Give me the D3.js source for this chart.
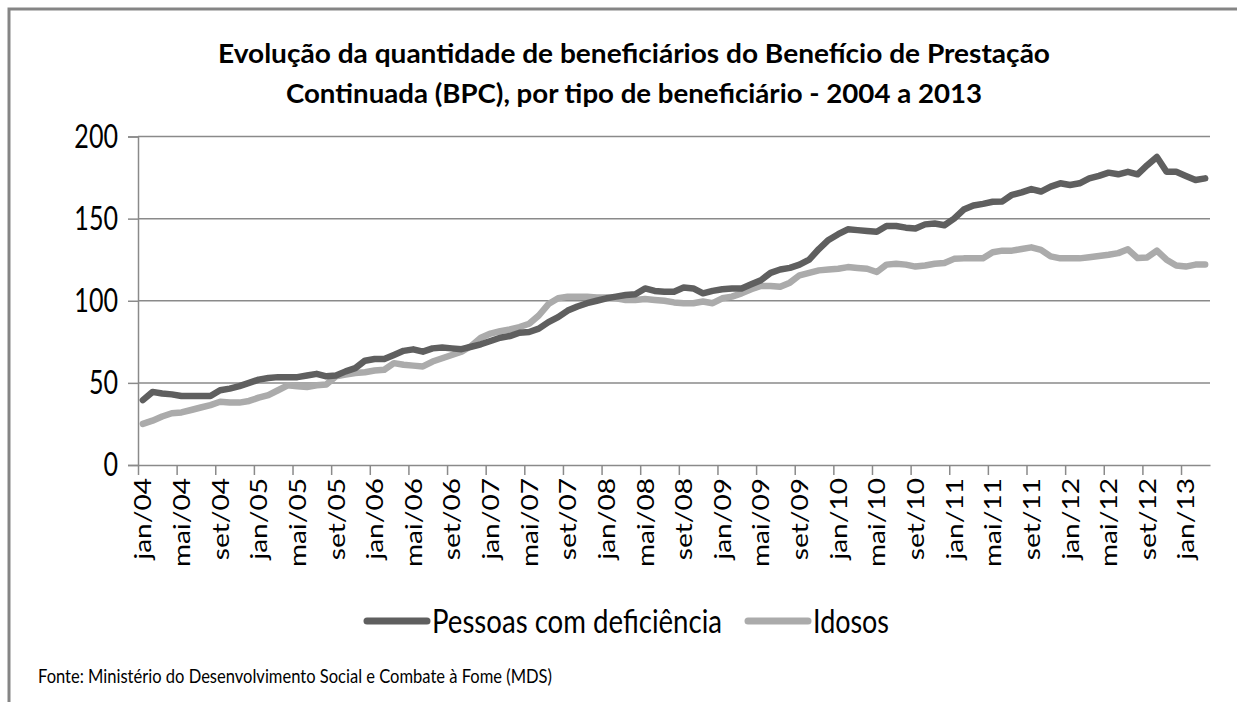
<!DOCTYPE html>
<html>
<head>
<meta charset="utf-8">
<script src="https://cdn.jsdelivr.net/npm/d3@7/dist/d3.min.js"></script>
<style>
  body { margin: 0; background: #fff; }
  text { font-family: Lato, "Open Sans", sans-serif; fill: #000; }
</style>
</head>
<body>
<div class="chartContainer"></div>
<script>
const meses = ['jan', 'fev', 'mar', 'abr', 'mai', 'jun', 'jul', 'ago', 'set', 'out', 'nov', 'dez']
const anos = ['04', '05', '06', '07', '08', '09', '10', '11', '12', '13']

const pessoasComDeficiencia = [
  39.5, 44.5, 43.5, 43, 42, 42, 42, 42, 45.5, 46.5, 48, 50,
  52, 53, 53.5, 53.5, 53.5, 54.5, 55.5, 54, 54.5, 57, 59, 63.5,
  64.5, 64.5, 67, 69.5, 70.4, 69, 71, 71.5, 71, 70.5, 72, 73.5,
  75.5, 77.5, 78.5, 80.5, 81, 83, 87, 90, 94, 96.5, 98.5, 100,
  101.5, 102.5, 103.5, 104, 107.5, 106, 105.5, 105.5, 108, 107.5, 104.5, 106,
  107, 107.5, 107.5, 110, 112.5, 117, 119, 120, 122, 125, 131.5, 137,
  140.5, 143.5, 143, 142.5, 142, 145.5, 145.5, 144.5, 144, 146.5, 147, 146,
  150, 155.5, 158, 159, 160.3, 160.5, 164.5, 166, 168, 166.5, 169.5, 171.5,
  170.5, 171.5, 174.5, 176, 178, 177, 178.5, 177, 182.5, 187.5, 178.5, 178.5,
  176, 173.5, 174.5
]

const idosos = [
  25, 27, 29.5, 31.5, 32, 33.5, 35, 36.5, 38.5, 38, 38, 39,
  41, 42.5, 45.5, 48.5, 48, 47.5, 48.5, 49, 54, 55, 56, 56.5,
  57.5, 58, 62, 61, 60.5, 60, 63, 65, 67, 69, 72.5, 77.5,
  80, 81.5, 82.5, 84, 86, 91, 98, 101.5, 102.5, 102.5, 102.5, 102,
  102, 101.5, 100.5, 100.5, 101, 100.5, 100, 99, 98.5, 98.5, 99.5, 98.5,
  101.5, 102.5, 104.5, 107, 109, 109, 108.5, 111, 115.5, 117, 118.5, 119,
  119.5, 120.5, 120, 119.5, 117.5, 122, 122.5, 122, 120.8, 121.5, 122.5, 123,
  125.5, 125.8, 125.8, 125.8, 129.5, 130.5, 130.5, 131.5, 132.5, 131, 127, 125.8,
  125.8, 125.8, 126.5, 127.2, 128, 129, 131.3, 126, 126.4, 130.5, 125, 121.5,
  120.8, 122, 122
]

const yTicks = [0, 50, 100, 150, 200]
const seriesNames = ['Pessoas com deficiência', 'Idosos']
const titleLines = [
  'Evolução da quantidade de beneficiários do Benefício de Prestação',
  'Continuada (BPC), por tipo de beneficiário - 2004 a 2013'
]
const fonte = 'Fonte: Ministério do Desenvolvimento Social e Combate à Fome (MDS)'

const categorias = anos.flatMap(a => meses.map(m => `${m}/${a}`)).slice(0, pessoasComDeficiencia.length)

const width = 1237
const height = 702
const plotLeft = 138
const plotRight = 1210
const plotTop = 136.5
const plotBottom = 465

const darkColor = '#5f5f5f'
const lightColor = '#ababab'
const axisColor = '#8a8a8a'

// squeeze or stretch text along its run, the picture is not to scale
const stretch = (sel, k) => sel.each(function() {
  const len = this.getComputedTextLength()
  d3.select(this).attr('textLength', len * k).attr('lengthAdjust', 'spacingAndGlyphs')
})
const fitTo = (sel, w) => sel.attr('textLength', w).attr('lengthAdjust', 'spacingAndGlyphs')

const svg = d3.select('.chartContainer')
  .append('svg')
  .attr('width', width)
  .attr('height', height)

// frame
svg.append('path')
  .attr('d', `M9,${height} V9 H${width}`)
  .attr('fill', 'none')
  .attr('stroke', '#858585')
  .attr('stroke-width', 3)

// title
svg.append('text')
  .attr('x', 634).attr('y', 63)
  .attr('text-anchor', 'middle')
  .attr('font-size', 27).attr('font-weight', 'bold')
  .text(titleLines[0])
  .call(fitTo, 832)
svg.append('text')
  .attr('x', 634).attr('y', 103)
  .attr('text-anchor', 'middle')
  .attr('font-size', 27).attr('font-weight', 'bold')
  .text(titleLines[1])
  .call(fitTo, 696)

const x = d3.scaleLinear()
  .domain([0, categorias.length])
  .range([plotLeft, plotRight])
const bw = x(1) - x(0)

const y = d3.scaleLinear()
  .domain([0, 200])
  .range([plotBottom, plotTop])

// gridlines
svg.append('g')
  .selectAll('line')
  .data(yTicks.filter(d => d > 0))
  .join('line')
    .attr('x1', plotLeft).attr('x2', plotRight)
    .attr('y1', d => y(d)).attr('y2', d => y(d))
    .attr('stroke', axisColor)
    .attr('stroke-width', 1.5)

// Y axis
const yAxis = svg.append('g')
  .attr('transform', `translate(${plotLeft},0)`)
  .call(d3.axisLeft(y).tickValues(yTicks).tickSize(10).tickPadding(10))
yAxis.select('.domain').attr('stroke', axisColor).attr('stroke-width', 1.5)
yAxis.selectAll('line').attr('stroke', axisColor).attr('stroke-width', 1.5)
yAxis.selectAll('text')
  .attr('font-size', 33)
  .attr('font-family', 'Lato, sans-serif')
  .attr('fill', '#000')
  .call(stretch, 0.76)

// X axis, ticks on the category boundaries, labels on the category centres
const xAxis = svg.append('g')
  .attr('transform', `translate(0,${plotBottom})`)
  .call(d3.axisBottom(x)
    .tickValues(d3.range(0, categorias.length, 4))
    .tickSize(10)
    .tickSizeOuter(0)
    .tickFormat(i => categorias[i]))
xAxis.select('.domain').attr('stroke', axisColor).attr('stroke-width', 1.5)
xAxis.selectAll('line').attr('stroke', axisColor).attr('stroke-width', 1.5)
xAxis.selectAll('text')
  .attr('font-size', 23)
  .attr('font-family', 'Lato, sans-serif')
  .attr('fill', '#000')
  .attr('text-anchor', 'end')
  .attr('x', 0).attr('y', 0).attr('dy', '0.35em')
  .attr('transform', `translate(${bw / 2},13) rotate(-90)`)
  .call(stretch, 1.22)

// lines
const line = d3.line()
  .x((d, i) => x(i + 0.5))
  .y(d => y(d))

svg.append('path')
  .datum(idosos)
  .attr('d', line)
  .attr('fill', 'none')
  .attr('stroke', lightColor)
  .attr('stroke-width', 6.5)
  .attr('stroke-linejoin', 'round')
  .attr('stroke-linecap', 'round')

svg.append('path')
  .datum(pessoasComDeficiencia)
  .attr('d', line)
  .attr('fill', 'none')
  .attr('stroke', darkColor)
  .attr('stroke-width', 6.5)
  .attr('stroke-linejoin', 'round')
  .attr('stroke-linecap', 'round')

// legend
const legendItems = [
  { name: seriesNames[0], color: darkColor, x: 367, w: 290 },
  { name: seriesNames[1], color: lightColor, x: 748, w: 76 }
]
const legend = svg.append('g')
  .selectAll('g')
  .data(legendItems)
  .join('g')
    .attr('transform', d => `translate(${d.x},621)`)
legend.append('line')
  .attr('x1', 0).attr('x2', 60)
  .attr('stroke', d => d.color)
  .attr('stroke-width', 7)
  .attr('stroke-linecap', 'round')
legend.append('text')
  .attr('x', 65).attr('y', 12)
  .attr('font-size', 33)
  .text(d => d.name)
  .each(function(d) { d3.select(this).call(fitTo, d.w) })

// source
svg.append('text')
  .attr('x', 38).attr('y', 683)
  .attr('font-size', 19)
  .text(fonte)
  .call(fitTo, 514)
</script>
</body>
</html>
